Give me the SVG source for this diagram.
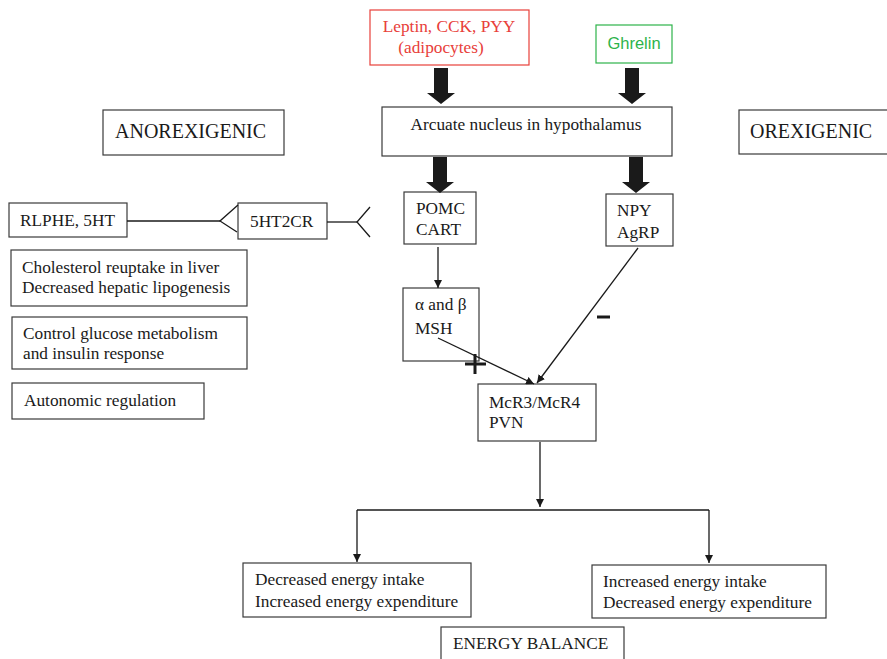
<svg xmlns="http://www.w3.org/2000/svg" width="887" height="659" viewBox="0 0 887 659">
  <style>
    .box { fill: #fff; stroke: #3a3a3a; stroke-width: 1.2; }
    .t { font-family: "Liberation Serif", "Times New Roman", serif; font-size: 17.3px; fill: #1a1a1a; }
    .big { font-size: 20px; }
    .line { stroke: #1a1a1a; stroke-width: 1.3; fill: none; }
    .arr { marker-end: url(#head); }
    .sign { stroke: #1a1a1a; stroke-width: 3; fill: none; }
  </style>
  <defs>
    <marker id="head" viewBox="0 0 10 10" refX="10" refY="5" markerWidth="8" markerHeight="8" markerUnits="userSpaceOnUse" orient="auto">
      <path d="M0,0 L10,5 L0,10 Z" fill="#1a1a1a"/>
    </marker>
    <!-- block arrow pointing down, origin at top centre -->
    <path id="fat" d="M-7,0 H7 V25 H14 L0,36 L-14,25 H-7 Z" fill="#1a1a1a"/>
  </defs>
  <rect width="887" height="659" fill="#fff"/>

  <g id="leptin">
    <rect x="370" y="10" width="159" height="55" fill="#fff" stroke="#e8403a" stroke-width="1.2"/>
    <text class="t" x="449" y="32" text-anchor="middle" style="fill:#e8403a">Leptin, CCK, PYY</text>
    <text class="t" x="441" y="53" text-anchor="middle" style="fill:#e8403a">(adipocytes)</text>
  </g>
  <g id="ghrelin">
    <rect x="596" y="25" width="76" height="38" fill="#fff" stroke="#2db34a" stroke-width="1.2"/>
    <text x="634" y="49" text-anchor="middle" font-family="Liberation Sans, Arial, sans-serif" font-size="16.5" fill="#2db34a">Ghrelin</text>
  </g>
  <g id="arcuate">
    <rect class="box" x="382" y="107" width="290" height="49"/>
    <text class="t" x="526" y="130" text-anchor="middle">Arcuate nucleus in hypothalamus</text>
  </g>
  <g id="anorexigenic">
    <rect class="box" x="103" y="110" width="181" height="45"/>
    <text class="t big" x="115" y="138">ANOREXIGENIC</text>
  </g>
  <g id="orexigenic">
    <rect class="box" x="739" y="110" width="152" height="44"/>
    <text class="t big" x="750" y="138">OREXIGENIC</text>
  </g>
  <g id="pomc">
    <rect class="box" x="404" y="192" width="72" height="52"/>
    <text class="t" x="416" y="214">POMC</text>
    <text class="t" x="416" y="235">CART</text>
  </g>
  <g id="npy">
    <rect class="box" x="606" y="194" width="67" height="52"/>
    <text class="t" x="617" y="216">NPY</text>
    <text class="t" x="617" y="238">AgRP</text>
  </g>
  <g id="msh">
    <rect class="box" x="403" y="288" width="76" height="73"/>
    <text class="t" x="415" y="310">α and β</text>
    <text class="t" x="415" y="334">MSH</text>
  </g>
  <g id="mcr">
    <rect class="box" x="478" y="384" width="118" height="57"/>
    <text class="t" x="489" y="408">McR3/McR4</text>
    <text class="t" x="489" y="428">PVN</text>
  </g>
  <g id="rlphe">
    <rect class="box" x="9" y="203" width="118" height="34"/>
    <text class="t" x="20" y="226">RLPHE, 5HT</text>
  </g>
  <g id="ht2cr">
    <rect class="box" x="238" y="203" width="89" height="36"/>
    <text class="t" x="250" y="227">5HT2CR</text>
  </g>
  <g id="cholesterol">
    <rect class="box" x="11" y="250" width="236" height="56"/>
    <text class="t" x="22" y="273">Cholesterol reuptake in liver</text>
    <text class="t" x="22" y="293">Decreased hepatic lipogenesis</text>
  </g>
  <g id="glucose">
    <rect class="box" x="12" y="317" width="235" height="52"/>
    <text class="t" x="23" y="339">Control glucose metabolism</text>
    <text class="t" x="23" y="359">and insulin response</text>
  </g>
  <g id="autonomic">
    <rect class="box" x="12" y="383" width="192" height="36"/>
    <text class="t" x="24" y="406">Autonomic regulation</text>
  </g>
  <g id="decreased">
    <rect class="box" x="243" y="563" width="228" height="54"/>
    <text class="t" x="255" y="585">Decreased energy intake</text>
    <text class="t" x="255" y="607">Increased energy expenditure</text>
  </g>
  <g id="increased">
    <rect class="box" x="592" y="565" width="234" height="53"/>
    <text class="t" x="603" y="587">Increased energy intake</text>
    <text class="t" x="603" y="608">Decreased energy expenditure</text>
  </g>
  <g id="balance">
    <rect class="box" x="441" y="627" width="183" height="40"/>
    <text class="t" x="453" y="649">ENERGY BALANCE</text>
  </g>

  <!-- connectors, drawn over the boxes -->
  <g id="connectors">
    <use href="#fat" x="441" y="68"/>
    <use href="#fat" x="632" y="68"/>
    <use href="#fat" x="440" y="157"/>
    <use href="#fat" x="636" y="157"/>
    <line class="line arr" x1="438" y1="247" x2="438" y2="288"/>
    <line class="line arr" x1="438" y1="338" x2="534" y2="384"/>
    <line class="line arr" x1="638" y1="248" x2="537" y2="383"/>
    <line class="line arr" x1="540" y1="442" x2="540" y2="507"/>
    <polyline class="line" points="357,510 709,510"/>
    <line class="line arr" x1="357" y1="510" x2="357" y2="562"/>
    <line class="line arr" x1="709" y1="510" x2="709" y2="563"/>
    <!-- receptor lines -->
    <line class="line" x1="127" y1="221" x2="220" y2="221"/>
    <polyline class="line" points="238,205 220,221 237,232"/>
    <line class="line" x1="327" y1="222" x2="357" y2="222"/>
    <polyline class="line" points="370,207 357,222 370,237"/>
    <!-- signs -->
    <path class="sign" d="M465,364 H486 M475,354 V374"/>
    <path class="sign" d="M597,317 H610" stroke-width="4"/>
  </g>
</svg>
